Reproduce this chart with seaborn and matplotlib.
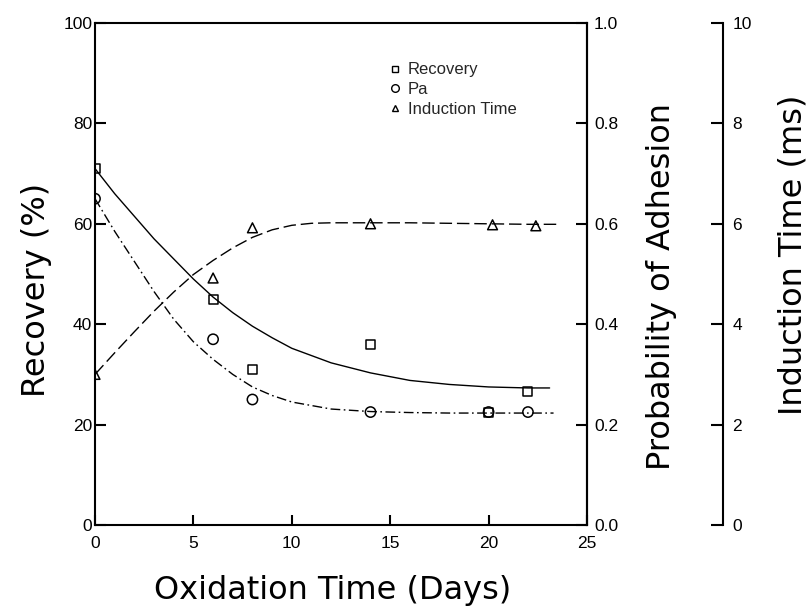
import numpy as np
import pandas as pd
import matplotlib
matplotlib.use("Agg")
import matplotlib.pyplot as plt
import seaborn as sns
from matplotlib.lines import Line2D

# ---- measured data points ----
rec_days = [0, 6, 8, 14, 20, 22]
rec_pct = [71, 45, 31, 36, 22.5, 26.5]
pa_days = [0, 6, 8, 14, 20, 22]
pa_prob = [0.65, 0.37, 0.25, 0.225, 0.225, 0.225]
ind_days = [0, 6, 8, 14, 20.2, 22.4]
ind_ms = [3.0, 4.92, 5.92, 6.0, 5.98, 5.96]

# ---- fitted curves ----
rec_fit_days = [0, 1, 2, 3, 4, 5, 6, 7, 8, 9, 10, 12, 14, 16, 18, 20, 22, 23.1]
rec_fit_pct = [71, 66, 61.5, 57, 53, 49, 45.4, 42.3, 39.6, 37.3, 35.2, 32.3,
               30.3, 28.8, 28.0, 27.5, 27.3, 27.3]
pa_fit_days = [0, 1, 2, 3, 4, 5, 6, 7, 8, 9, 10, 12, 14, 16, 18, 20, 22, 23.3]
pa_fit_prob = [0.65, 0.585, 0.525, 0.465, 0.41, 0.365, 0.33, 0.30, 0.275, 0.258,
               0.245, 0.231, 0.226, 0.224, 0.223, 0.223, 0.223, 0.223]
ind_fit_days = [0, 1, 2, 3, 4, 5, 6, 7, 8, 9, 10, 11, 12, 14, 16, 18, 20, 22, 23.5]
ind_fit_ms = [3.0, 3.43, 3.85, 4.26, 4.64, 4.99, 5.27, 5.52, 5.73, 5.88, 5.97,
              6.01, 6.02, 6.02, 6.02, 6.01, 6.0, 5.99, 5.99]

x_ticks = [0, 5, 10, 15, 20, 25]
rec_ticks = [0, 20, 40, 60, 80, 100]
pa_ticks = [0.0, 0.2, 0.4, 0.6, 0.8, 1.0]
ind_ticks = [0, 2, 4, 6, 8, 10]

sns.set_theme(style="white")
plt.rcParams['font.family'] = ['Liberation Sans', 'DejaVu Sans']

W, H = 811, 614
fig = plt.figure(figsize=(W / 100, H / 100), dpi=100)
L, R, T, B = 95, 587, 23, 525
ax = fig.add_axes([L / W, 1 - B / H, (R - L) / W, (B - T) / H])
ax2 = ax.twinx()
ax3 = ax.twinx()

lw = 1.0
# curves
sns.lineplot(x=rec_fit_days, y=rec_fit_pct, ax=ax, color='black', lw=lw,
             sort=False, estimator=None)
ax.lines[-1].set_linestyle('-')
sns.lineplot(x=pa_fit_days, y=pa_fit_prob, ax=ax2, color='black', lw=lw,
             sort=False, estimator=None)
ax2.lines[-1].set_linestyle((0, (7, 2.5, 1.2, 2.5)))
sns.lineplot(x=ind_fit_days, y=ind_fit_ms, ax=ax3, color='black', lw=lw,
             sort=False, estimator=None)
ax3.lines[-1].set_linestyle((0, (9, 3.5)))

# markers
sns.scatterplot(x=rec_days, y=rec_pct, ax=ax, marker='s', s=42,
                color='black', edgecolor='black', linewidth=1.1, zorder=5)
ax.collections[-1].set_facecolor('none')
sns.scatterplot(x=pa_days, y=pa_prob, ax=ax2, marker='o', s=55,
                color='black', edgecolor='black', linewidth=1.1, zorder=5)
ax2.collections[-1].set_facecolor('none')
sns.scatterplot(x=ind_days, y=ind_ms, ax=ax3, marker='^', s=50,
                color='black', edgecolor='black', linewidth=1.1, zorder=5)
ax3.collections[-1].set_facecolor('none')

# limits and ticks
ax.set_xlim(0, 25)
ax.set_ylim(0, 100)
ax2.set_ylim(0, 1)
ax3.set_ylim(0, 10)
ax.set_xticks(x_ticks)
ax.set_xticklabels([str(v) for v in x_ticks])
ax.set_yticks(rec_ticks)
ax.set_yticklabels([str(v) for v in rec_ticks])
ax2.set_yticks(pa_ticks)
ax2.set_yticklabels([f"{v:.1f}" for v in pa_ticks])
ax3.set_yticks(ind_ticks)
ax3.set_yticklabels([str(v) for v in ind_ticks])

spw = 1.5
for s in ax.spines.values():
    s.set_visible(True)
    s.set_color('black')
    s.set_linewidth(spw)
for a in (ax2, ax3):
    a.patch.set_visible(False)
    for k, s in a.spines.items():
        s.set_visible(k == 'right')
        s.set_color('black')
        s.set_linewidth(spw)
ax3.spines['right'].set_position(('axes', 1.276))

tfs = 12.5
ax.tick_params(axis='y', which='both', left=True, right=False, direction='in',
               length=8, width=spw, pad=2, labelsize=tfs, colors='black')
ax.tick_params(axis='x', which='both', bottom=True, top=False, direction='in',
               length=7.5, width=spw, pad=8, labelsize=tfs, colors='black')
ax2.tick_params(axis='y', right=True, left=False, direction='in', length=8,
                width=spw, pad=5, labelsize=tfs, colors='black')
ax3.tick_params(axis='y', right=True, left=False, direction='in', length=9,
                width=spw, pad=7, labelsize=tfs, colors='black')

lab_font = dict(family=['DejaVu Sans'], size=23, color='black')
ax.set_xlabel('Oxidation Time (Days)', **lab_font)
ax.xaxis.set_label_coords(0.482, -0.1)
ax.set_ylabel('Recovery (%)', **lab_font)
ax.yaxis.set_label_coords(-0.087, 0.468)
ax2.set_ylabel('Probability of Adhesion', **lab_font)
ax2.yaxis.set_label_coords(1.12, 0.476)
ax3.set_ylabel('Induction Time (ms)', **lab_font)
ax3.yaxis.set_label_coords(1.388, 0.538)

handles = [
    Line2D([], [], ls='none', marker='s', ms=5, mfc='none', mec='black', mew=1.0),
    Line2D([], [], ls='none', marker='o', ms=5.5, mfc='none', mec='black', mew=1.0),
    Line2D([], [], ls='none', marker='^', ms=5, mfc='none', mec='black', mew=1.0),
]
fig.legend(handles, ['Recovery', 'Pa', 'Induction Time'],
           loc='upper left', bbox_to_anchor=(382 / W, 1 - 54 / H),
           frameon=False, fontsize=12, borderpad=0, handlelength=0.6,
           handletextpad=0.45, labelspacing=0.28)

fig.savefig('out.png', dpi=100, facecolor='white')
